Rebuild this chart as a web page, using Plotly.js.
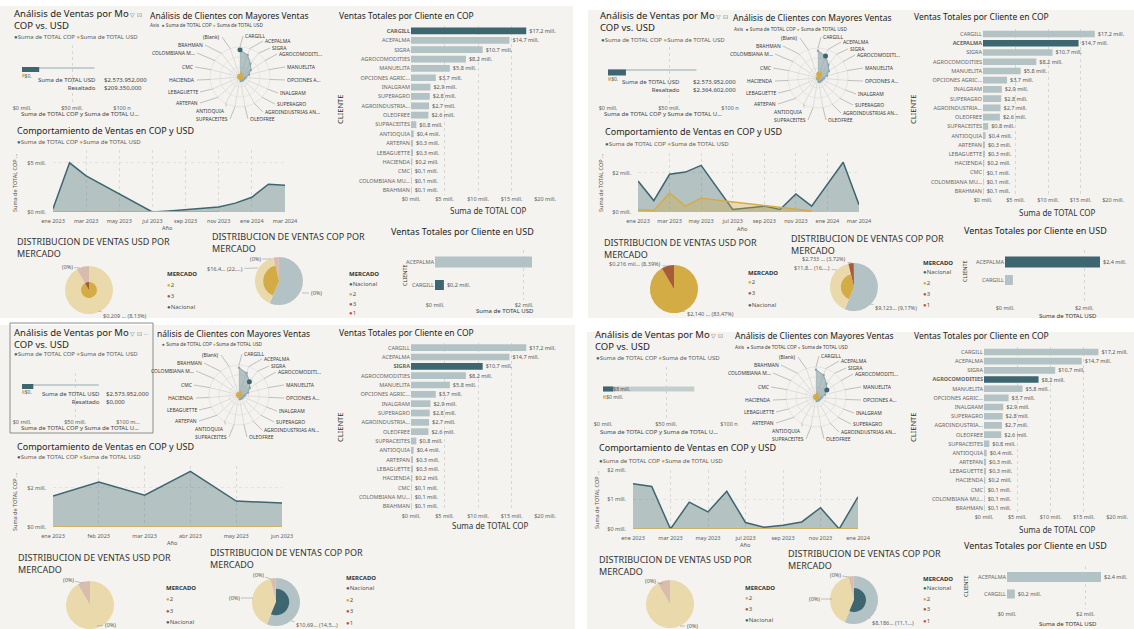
<!DOCTYPE html>
<html><head><meta charset="utf-8">
<script src="https://cdn.plot.ly/plotly-3.0.1.min.js"></script>
<style>html,body{margin:0;padding:0;background:#fff}#chart{width:1134px;height:629px}</style>
</head><body><div id="chart"></div>
<script>
// ---------------- DATA ----------------
const clientes = ['CARGILL','ACEPALMA','SIGRA','AGROCOMODITIES','MANUELITA','OPCIONES AGRIC...','INALGRAM','SUPERAGRO','AGROINDUSTRIA...','OLEOFREE','SUPRACEITES','ANTIOQUIA','ARTEPAN','LEBAGUETTE','HACIENDA','CMC','COLOMBIANA MU...','BRAHMAN'];
const ventasCOP = [17.2,14.7,10.7,8.2,5.8,3.7,2.9,2.8,2.7,2.6,0.8,0.4,0.3,0.3,0.2,0.1,0.1,0.1];
const radarEjes = ['CARGILL','ACEPALMA','SIGRA','AGROCOMODITI...','MANUELITA','OPCIONES A...','INALGRAM','SUPERAGRO','AGROINDUSTRIAS AN...','OLEOFREE','SUPRACEITES','ANTIOQUIA','ARTEPAN','LEBAGUETTE','HACIENDA','CMC','COLOMBIANA M...','BRAHMAN','(Blank)'];
const radarCOP = [17.2,14.7,10.7,8.2,5.8,3.7,2.9,2.8,2.7,2.6,0.8,0.4,0.3,0.3,0.2,0.1,0.1,0.1,0];
const radarUSD = [0.2,2.4,0,0,0,0,0,0,0,0,0,0,0,0,0,0,0,0,0];
const clientesUSD = ['ACEPALMA','CARGILL'];
const ventasUSD = [2.4,0.2];
const totalCOP = 72.5;
const totalUSD = 2.57;
const mercadosUSD = ['2','3','Nacional'];
const usdPorMercado = [91.6,8.4,0];
const mercadosCOP = ['Nacional','2','3','1'];
const copPorMercado = [56.3,40.0,3.5,0.2];
const meses = ['ene 2023','feb 2023','mar 2023','abr 2023','may 2023','jun 2023','jul 2023','ago 2023','sep 2023','oct 2023','nov 2023','dic 2023','ene 2024','feb 2024','mar 2024'];
const copMesCargill = [0.33,5.0,3.67,null,null,null,0.0,0.1,0.25,0.35,0.5,0.9,1.5,2.83,2.73];
const usdMesCargill = [0.03,0.03,0.03,null,null,null,0.03,0.03,0.03,0.03,0.03,null,null,null,null];
const copMesAcepalma = [1.58,0.58,1.92,2.03,2.37,null,0.13,null,0.3,0.13,0.92,0.3,null,2.53,0.37];
const usdMesAcepalma = [0.13,0.08,0.97,0.3,0.7,null,null,null,null,null,null,0.05,null,null,null];
const mesesSigra = ['ene 2023','feb 2023','mar 2023','abr 2023','may 2023','jun 2023'];
const copMesSigra = [1.58,2.28,1.62,2.83,1.32,1.22];
const usdMesSigra = [0,0,0,0,0,0];
const mesesAgro = ['ene 2023','feb 2023','mar 2023','abr 2023','may 2023','jun 2023','jul 2023','ago 2023','sep 2023','oct 2023','nov 2023','dic 2023','ene 2024'];
const copMesAgro = [1.53,1.44,0.0,0.91,0.58,1.28,0.22,0.06,0.13,0.24,0.72,0.0,1.09];
const usdMesAgro = [0,0,0,0,0,0,0,0,0,0,0,0,0];

// ---------------- STYLE / LAYOUT ----------------
const W=1134, H=629;
const F='"Noto Sans", "Open Sans", sans-serif';
const COL = {nac:'#3d6670', nacF:'#b3c2c4', y:'#d4ac45', yF:'#ead9ab', br:'#a65b3a', brF:'#d9bcae', red:'#c6503c', redF:'#ebb9ad', grey:'#605e5c', dark:'#252423', bg:'#f4f3ef'};
const full = {'2':COL.y,'3':COL.br,'Nacional':COL.nac,'1':COL.red};
const fade = {'2':COL.yF,'3':COL.brF,'Nacional':COL.nacF,'1':COL.redF};
// radar label placement (offset from radar centre in px, anchor side)
const radarLabelPos = [[3,-41,'left'],[23,-36,'left'],[30,-29,'left'],[37,-23,'left'],[45,-10,'left'],[45,3,'left'],[38,16,'left'],[35,27,'left'],[23,35,'left'],[8,42,'left'],
  [-10,42,'right'],[-13,34,'right'],[-40,26,'right'],[-40,15,'right'],[-43,3,'right'],[-45,-10,'right'],[-43,-24,'right'],[-35,-32,'right'],[-18,-40,'right']];
const RR = 30;
const data=[], ann=[], shp=[];
const layout = {width:W, height:H, margin:{l:0,r:0,t:0,b:0}, paper_bgcolor:'#ffffff', plot_bgcolor:'rgba(0,0,0,0)',
  showlegend:false, barmode:'overlay', font:{family:F,color:COL.grey,size:6}, annotations:ann, shapes:shp};
function px(x){return x/W;} function py(y){return 1-y/H;}
function t(x,y,text,o){o=o||{}; ann.push({xref:'paper',yref:'paper',x:px(x),y:py(y),text:text,showarrow:false,
  xanchor:o.xa||'left',yanchor:'middle',align:o.al||(o.xa==='right'?'right':(o.xa==='center'?'center':'left')),textangle:o.ang||0,
  font:{family:F,size:o.s||6,color:o.c||COL.grey}});}
function lead(x,y,tx,ty,text,o){o=o||{}; ann.push({xref:'paper',yref:'paper',x:px(x),y:py(y),ax:tx-x,ay:ty-y,axref:'pixel',ayref:'pixel',
  text:text,showarrow:true,arrowhead:0,arrowwidth:0.6,arrowcolor:'#9a9a9a',standoff:0,xanchor:o.xa||'auto',
  font:{family:F,size:o.s||5.5,color:o.c||COL.grey}});}
let nxy=0, npol=0;
function xy(xd,yd,xo,yo){nxy++; const s=nxy===1?'':String(nxy);
  const base={fixedrange:true,zeroline:false,showline:false,showgrid:false,ticks:'',tickfont:{family:F,size:5.5,color:COL.grey}};
  layout['xaxis'+s]=Object.assign({},base,{domain:[px(xd[0]),px(xd[1])],anchor:'y'+s},xo);
  layout['yaxis'+s]=Object.assign({},base,{domain:[py(yd[1]),py(yd[0])],anchor:'x'+s},yo);
  return {xaxis:'x'+s,yaxis:'y'+s};}
function polar(cx,cy,r){npol++; const s=npol===1?'':String(npol);
  layout['polar'+s]={domain:{x:[px(cx-r),px(cx+r)],y:[py(cy+r),py(cy-r)]},bgcolor:'rgba(0,0,0,0)',
    angularaxis:{type:'category',categoryorder:'array',categoryarray:radarEjes,direction:'clockwise',rotation:90,
      ticks:'',showticklabels:false,showline:true,linecolor:'#dadada',linewidth:0.6,gridcolor:'#c4c4c4',gridwidth:0.5},
    radialaxis:{range:[0,19],tickvals:[6.3,12.7,19],showticklabels:false,ticks:'',showline:false,gridcolor:'#dcdcdc',gridwidth:0.6}};
  return 'polar'+s;}
function hbar(o,ax){return Object.assign({type:'bar',orientation:'h',x:o.x,y:o.y,width:o.w,marker:{color:o.c,line:{width:0}},
  text:o.text,textposition:'outside',textfont:{family:F,size:o.ts||5.5,color:'#555'},cliponaxis:o.clip||false,constraintext:'none',hoverinfo:'skip'},ax);}
function pie(cx,cy,r,labels,values,colors){data.push({type:'pie',labels:labels,values:values,sort:false,direction:'clockwise',rotation:0,
  marker:{colors:colors,line:{width:0}},textinfo:'none',hoverinfo:'skip',showlegend:false,
  domain:{x:[px(cx-r),px(cx+r)],y:[Math.max(0,py(cy+r)),py(cy-r)]}});}
function fmtMill(v){return '$'+v.toFixed(1).replace('.',',')+' mill.';}
const dot = c => '<span style="color:'+c+'">●</span>';
const legSeries = dot(COL.nac)+'Suma de TOTAL COP '+dot(COL.y)+'Suma de TOTAL USD';

const panels = [
{ bg:[0,6,573,318], hi:0,
  A:{t:[12,20], leg:[12,37], x:[22,122], gy:[45,103], fade:[68,2], cop:[69.5,5], usd:[75.5,3.5], copTxt:'', usdTxt:'$0.', t100:'$100 n',
     tip:[98,102,83.5,['Suma de TOTAL USD','Resaltado'],['$2.573.952,000','$209.350,000']], xt:[80,114]},
  R:{c:[240,77], t:[148,15], leg:[148,25]},
  C:{x:[411,545], y:[26.3,194.7], t:[337,15], xt:[488,211], cl:[340,110]},
  D:{t:[15,130], leg:[15,142], x:[53,285], y:[150,212], m:meses, cop:copMesCargill, usd:usdMesCargill, yr:[0,6.3], yt:[0,5], step:2, ytl:[15,183], ano:[167,228]},
  PU:{c:[89,290], t:[15,247.5], leg:[165,274,[285,296,307]], lab:[[80,268,67,267,'(0%)'],[98,311,125,316,'$0,209 ... (8,13%)']], hl:[{r:0.33,show:['2','3']}]},
  PK:{c:[279,281], t:[210,242.5], leg:[347,274,[284,294,304,313]], lab:[[271,259,255,259,'(0%)'],[258,268,225,269,'$16,4... (22,...)'],[302,293,316,293,'(0%)']], hl:[{r:0.66,show:['2']}]},
  E:{t:[389,231], x:[435,532], xr:[0,2.18], y:[250,300], rows:[262,285], h:[11,10], colors:[COL.nacF,COL.nac], txt:['','$0,2 mill.'], clip:true, xt:[505,311], cl:[405,275]}
},
{ bg:[588,10,1134,318], hi:1,
  A:{t:[598,22], leg:[599,40], x:[608,730], gy:[47,103], fade:[70,2], cop:[72.5,6], usd:[79,3.5], copTxt:'', usdTxt:'$0.', t100:'$100 n',
     tip:[682,691,86,['Suma de TOTAL USD','Resaltado'],['$2.573.952,000','$2.364.602,000']], xt:[663,114]},
  R:{c:[818,78], t:[731,18], leg:[732,29]},
  C:{x:[983,1113], y:[29.4,195.6], t:[912,17], xt:[1057,212], cl:[913,110]},
  D:{t:[603,131], leg:[603,144], x:[638,859], y:[153,212], m:meses, cop:copMesAcepalma, usd:usdMesAcepalma, yr:[0,3.0], yt:[0,2], step:2, ytl:[601,183], ano:[742,229]},
  PU:{c:[674,289], t:[602,248.5], leg:[746,273,[282,293,305]], lab:[[667,266,635,264,'$0.216 mil... (8,39%)'],[680,311,710,314,'$2,140 ... (83,47%)']], hl:[{r:1,show:['2','3']}]},
  PK:{c:[854,287], t:[789,244.5], leg:[921,263,[272,283,294,305]], lab:[[852,263,824,259,'$2,733 ... (3,72%)'],[837,270,812,268,'$11,8... (16,...)'],[870,304,896,308,'$9,123... (9,17%)']], hl:[{r:1,show:['3']},{r:0.55,show:['2']}]},
  E:{t:[962,230], x:[1005,1102], xr:[0,2.45], y:[250,303], rows:[262,280], h:[11,10], colors:[COL.nac,COL.nacF], txt:['$2,4 mill.',''], clip:false, xt:[1068,316], cl:[965,271]}
},
{ bg:[0,325,575,629], hi:2, sel:[10,323,153,433],
  A:{t:[12,338], leg:[12,354], x:[22,128], gy:[373,417], fade:[385,2], cop:[386.5,5], usd:[392,3.5], copTxt:'', usdTxt:'$0.', t100:'$100 m...',
     tip:[102,104,398.5,['Suma de TOTAL USD','Resaltado'],['$2.573.952,000','$0,000']], xt:[80,428]},
  R:{c:[239,395], t:[155,333], tText:'nálisis de Clientes con Mayores Ventas', leg:[160,344], legText:dot(COL.nac)+' Suma de TOTAL COP '+dot(COL.y)+'Suma de TOTAL USD'},
  C:{x:[411,545], y:[343,511], t:[337,332], xt:[490,525], cl:[340,428]},
  D:{t:[15,447], leg:[15,457], x:[53,282], y:[466,527], m:mesesSigra, cop:copMesSigra, usd:usdMesSigra, yr:[0,3.1], yt:[0,2], step:1, ytl:[15,502], ano:[172,543]},
  PU:{c:[90,605], t:[16,563], leg:[164,588,[599,611,622]], lab:[[83,583,68,580,'(0%)'],[97,626,110,625,'(0%)']], hl:[]},
  PK:{c:[276,602], t:[208,558], leg:[344,578,[588,600,611,623]], lab:[[271,579,258,575,'(0%)'],[253,598,234,598,'(0%)'],[291,621,317,625,'$10,69... (14,5...)']], hl:[{r:0.55,show:['Nacional']}]},
  E:null
},
{ bg:[587,332,1134,629], hi:3,
  A:{t:[593,340], leg:[594,358], x:[603,729], gy:[367,419], fade:[389,5], cop:[389,5], usd:[397,3.5], copTxt:'$8 mill.', usdTxt:'$0 mill.', t100:'$100 n',
     tip:null, xt:[659,432]},
  R:{c:[816,397], t:[733,335], leg:[733,347]},
  C:{x:[984,1117], y:[347.4,512.6], t:[912,335], xt:[1057,529], cl:[913,428]},
  D:{t:[597,448], leg:[597,461], x:[633,858], y:[470,529], m:mesesAgro, cop:copMesAgro, usd:usdMesAgro, yr:[0,2.0], yt:[0,1,2], step:2, ytl:[597,500], ano:[745,545]},
  PU:{c:[670,604], t:[597,565.5], leg:[743,588,[598,609,620]], lab:[[663,584,650,581,'(0%)'],[680,626,692,626,'(0%)']], hl:[]},
  PK:{c:[854,600], t:[786,559.5], leg:[921,579,[588,599,609,621]], lab:[[849,577,835,575,'(0%)'],[832,599,814,599,'(0%)'],[869,618,893,623,'$8,186... (11,1...)']], hl:[{r:0.5,show:['Nacional']}]},
  E:{t:[962,545], x:[1007,1101], xr:[0,2.4], y:[566,609], rows:[577,594], h:[10,9], colors:[COL.nacF,COL.nacF], txt:['$2,4 mill.','$0,2 mill.'], clip:false, xt:[1068,624], cl:[966,586]}
}];

panels.forEach(p=>{
  shp.push({type:'rect',xref:'paper',yref:'paper',x0:px(p.bg[0]),x1:px(p.bg[2]),y0:py(p.bg[3]),y1:py(p.bg[1]),fillcolor:COL.bg,line:{width:0},layer:'below'});
  if(p.sel) shp.push({type:'rect',xref:'paper',yref:'paper',x0:px(p.sel[0]),x1:px(p.sel[2]),y0:py(p.sel[3]),y1:py(p.sel[1]),fillcolor:'rgba(0,0,0,0)',line:{color:'#8c8c8c',width:1},layer:'above'});

  // A: COP vs USD
  const a=p.A;
  t(a.t[0],a.t[1],'Análisis de Ventas por Mo<span style="font-size:6px;color:#777777"> ▽ ⊡'+(p.sel?' ···':'')+'</span><br>COP vs. USD',{s:9.5,c:COL.dark});
  t(a.leg[0],a.leg[1],legSeries,{s:6});
  const axA=xy(a.x,a.gy,{range:[0,100],tickvals:[0,50,100],ticktext:['$0 mill.','$50 mill.',a.t100],showgrid:true,gridcolor:'#cfcfcf',griddash:'dot',gridwidth:0.8},
    {range:[a.gy[1],a.gy[0]],showticklabels:false});
  data.push(hbar({x:[totalCOP],y:[a.fade[0]],w:[a.fade[1]],c:'#c3cecf',text:['']},axA));
  data.push(hbar({x:[ventasCOP[p.hi]],y:[a.cop[0]],w:[a.cop[1]],c:COL.nac,text:[a.copTxt],ts:5},axA));
  data.push(hbar({x:[totalUSD],y:[a.usd[0]],w:[a.usd[1]],c:'#dcc07a',text:[a.usdTxt],ts:5},axA));
  if(a.tip){t(a.tip[0],a.tip[2],a.tip[3].join('<br>'),{xa:'right',s:6,c:'#444'}); t(a.tip[1],a.tip[2],a.tip[4].join('<br>'),{s:6,c:'#444'});}
  t(a.xt[0],a.xt[1],'Suma de TOTAL COP y Suma de TOTAL U...',{xa:'center',s:6,c:'#444'});

  // R: radar
  const r=p.R;
  t(r.t[0],r.t[1],r.tText||'Análisis de Clientes con Mayores Ventas',{s:8.5,c:COL.dark});
  t(r.leg[0],r.leg[1],r.legText||('Axis  '+dot(COL.nac)+' Suma de TOTAL COP '+dot(COL.y)+' Suma de TOTAL USD'),{s:4.8,c:'#444'});
  const pol=polar(r.c[0],r.c[1],RR);
  radarEjes.forEach((lab,i)=>{
    const th=i*2*Math.PI/radarEjes.length, pos=radarLabelPos[i];
    const hx=r.c[0]+RR*Math.sin(th), hy=r.c[1]-RR*Math.cos(th);
    lead(hx,hy,r.c[0]+pos[0],r.c[1]+pos[1],lab,{xa:pos[2],s:5,c:'#3a3a3a'});
  });
  data.push({type:'scatterpolar',subplot:pol,r:radarCOP,theta:radarEjes,mode:'lines+markers',fill:'toself',fillcolor:'rgba(100,135,142,0.45)',
    line:{color:'#7d989c',width:0.8},marker:{size:2.5,color:'#8fa7ab'},hoverinfo:'skip'});
  data.push({type:'scatterpolar',subplot:pol,r:radarUSD,theta:radarEjes,mode:'lines+markers',fill:'toself',fillcolor:'rgba(212,172,69,0.5)',
    line:{color:COL.y,width:0.8},marker:{size:2.5,color:COL.y},hoverinfo:'skip'});
  data.push({type:'scatterpolar',subplot:pol,r:[radarCOP[p.hi]],theta:[radarEjes[p.hi]],mode:'markers',marker:{size:5,color:COL.nac},hoverinfo:'skip'});
  data.push({type:'scatterpolar',subplot:pol,r:[radarUSD[p.hi]],theta:[radarEjes[p.hi]],mode:'markers',marker:{size:6,color:COL.y},hoverinfo:'skip'});

  // C: COP clients
  const c=p.C;
  t(c.t[0],c.t[1],'Ventas Totales por Cliente en COP',{s:8.5,c:COL.dark});
  const axC=xy(c.x,c.y,{range:[0,20],tickvals:[0,5,10,15,20],ticktext:['$0 mill.','$5 mill.','$10 mill.','$15 mill.','$20 mill.'],showgrid:true,gridcolor:'#cfcfcf',griddash:'dot',gridwidth:0.8},
    {type:'category',categoryorder:'array',categoryarray:clientes,autorange:'reversed',tickvals:clientes,
     ticktext:clientes.map((n,i)=>i===p.hi?'<b>'+n+'</b>':n),tickfont:{family:F,size:5.5,color:'#666'}});
  data.push(hbar({x:ventasCOP,y:clientes,w:0.72,c:ventasCOP.map((v,i)=>i===p.hi?COL.nac:COL.nacF),text:ventasCOP.map(fmtMill)},axC));
  t(c.xt[0],c.xt[1],'Suma de TOTAL COP',{xa:'center',s:8,c:'#333'});
  t(c.cl[0],c.cl[1],'CLIENTE',{xa:'center',ang:-90,s:7.5,c:'#333'});

  // D: area
  const d=p.D;
  t(d.t[0],d.t[1],'Comportamiento de Ventas en COP y USD',{s:9,c:COL.dark});
  t(d.leg[0],d.leg[1],legSeries,{s:6});
  const tv=d.m.filter((m,i)=>i%d.step===0);
  const axD=xy(d.x,d.y,{type:'category',categoryorder:'array',categoryarray:d.m,range:[0,d.m.length-1],tickvals:tv,ticktext:tv,showgrid:true,gridcolor:'#d3d3d3',griddash:'dot',gridwidth:0.8,
     ticks:'outside',ticklen:3,tickcolor:'rgba(0,0,0,0)'},
    {range:d.yr,tickvals:d.yt,ticktext:d.yt.map(v=>'$'+v+' mill.'),showgrid:true,gridcolor:'#dddddd',griddash:'dot',gridwidth:0.8,
     ticks:'outside',ticklen:5,tickcolor:'rgba(0,0,0,0)'});
  data.push(Object.assign({type:'scatter',x:d.m,y:d.cop,mode:'lines',connectgaps:true,fill:'tozeroy',fillcolor:'rgba(61,102,112,0.35)',line:{color:COL.nac,width:1.5},hoverinfo:'skip'},axD));
  data.push(Object.assign({type:'scatter',x:d.m,y:d.usd,mode:'lines',connectgaps:true,fill:'tozeroy',fillcolor:'rgba(212,172,69,0.35)',line:{color:COL.y,width:1.5},hoverinfo:'skip'},axD));
  t(d.ytl[0],d.ytl[1],'Suma de TOTAL COP ...',{xa:'center',ang:-90,s:5.5,c:'#555'});
  t(d.ano[0],d.ano[1],'Año',{xa:'center',s:5.5,c:'#555'});

  // Pies
  [[p.PU,'USD',mercadosUSD,usdPorMercado,[['2',COL.y],['3',COL.br],['Nacional',COL.nac]]],
   [p.PK,'COP',mercadosCOP,copPorMercado,[['Nacional',COL.nac],['2',COL.y],['3',COL.br],['1',COL.red]]]].forEach(q=>{
    const g=q[0];
    t(g.t[0],g.t[1],'DISTRIBUCION DE VENTAS '+q[1]+' POR<br>MERCADO',{s:9,c:'#333'});
    pie(g.c[0],g.c[1],24,q[2],q[3],q[2].map(m=>fade[m]));
    g.hl.forEach(h=>pie(g.c[0],g.c[1],24*h.r,q[2],q[3],q[2].map(m=>h.show.indexOf(m)>=0?full[m]:'rgba(0,0,0,0)')));
    g.lab.forEach(l=>lead(l[0],l[1],l[2],l[3],l[4]));
    t(g.leg[0],g.leg[1],'<b>MERCADO</b>',{s:6,c:'#333'});
    q[4].forEach((it,i)=>t(g.leg[0],g.leg[2][i],dot(it[1])+it[0],{s:6,c:'#555'}));
  });

  // E: USD clients
  if(p.E){const e=p.E;
    t(e.t[0],e.t[1],'Ventas Totales por Cliente en USD',{s:9,c:COL.dark});
    const axE=xy(e.x,e.y,{range:e.xr,tickvals:[0,2],ticktext:['$0 mill.','$2 mill.'],showgrid:true,gridcolor:'#cfcfcf',griddash:'dot',gridwidth:0.8},
      {range:[e.y[1],e.y[0]],tickvals:e.rows,ticktext:clientesUSD,tickfont:{family:F,size:5.5,color:'#666'}});
    data.push(hbar({x:ventasUSD,y:e.rows,w:e.h,c:e.colors,text:e.txt,clip:e.clip},axE));
    t(e.xt[0],e.xt[1],'Suma de TOTAL USD',{xa:'center',s:6,c:'#333'});
    t(e.cl[0],e.cl[1],'CLIENTE',{xa:'center',ang:-90,s:5.5,c:'#333'});
  }
});

Plotly.newPlot('chart',data,layout,{staticPlot:true,displayModeBar:false});
</script></body></html>
